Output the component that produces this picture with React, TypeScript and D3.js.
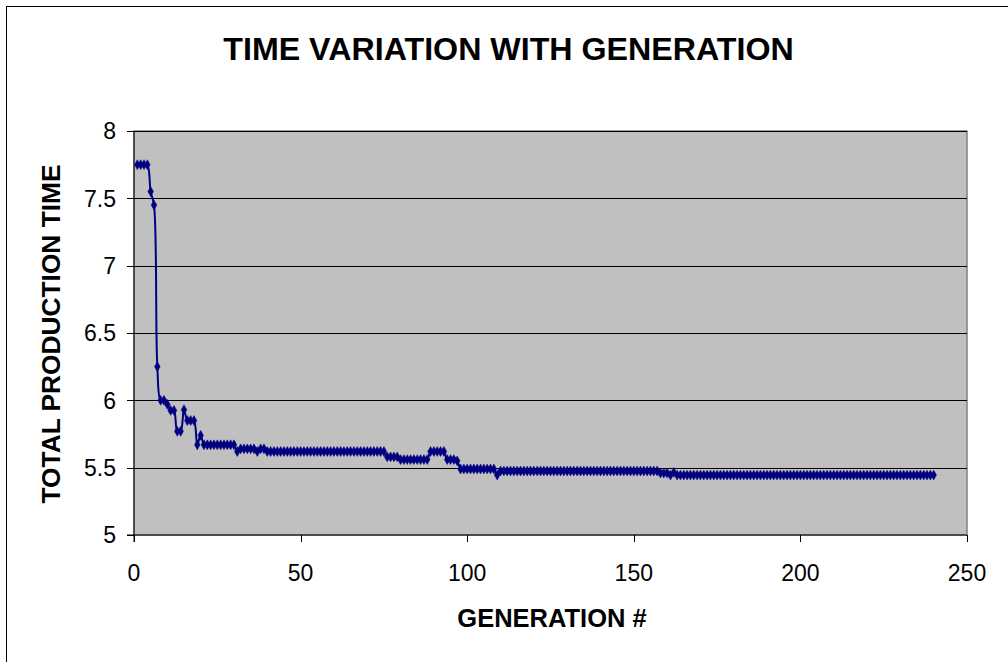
import React from "react";
import * as d3 from "d3";

const title = "TIME VARIATION WITH GENERATION";
const xTitle = "GENERATION #";
const yTitle = "TOTAL PRODUCTION TIME";
const xTicks = [0, 50, 100, 150, 200, 250];
const yTicks = [5, 5.5, 6, 6.5, 7, 7.5, 8];

// total production time per generation (generations 1..240)
const times = [
  7.75, 7.75, 7.75, 7.75, 7.55, 7.45, 6.25, 6.0, 6.0, 5.97,
  5.925, 5.925, 5.77, 5.77, 5.93, 5.85, 5.85, 5.85, 5.67, 5.74,
  5.67, 5.67, 5.67, 5.67, 5.67, 5.67, 5.67, 5.67, 5.67, 5.67,
  5.62, 5.64, 5.64, 5.64, 5.64, 5.64, 5.62, 5.64, 5.64, 5.62,
  5.62, 5.62, 5.62, 5.62, 5.62, 5.62, 5.62, 5.62, 5.62, 5.62,
  5.62, 5.62, 5.62, 5.62, 5.62, 5.62, 5.62, 5.62, 5.62, 5.62,
  5.62, 5.62, 5.62, 5.62, 5.62, 5.62, 5.62, 5.62, 5.62, 5.62,
  5.62, 5.62, 5.62, 5.62, 5.62, 5.58, 5.58, 5.58, 5.58, 5.56,
  5.56, 5.56, 5.56, 5.56, 5.56, 5.56, 5.56, 5.56, 5.62, 5.62,
  5.62, 5.62, 5.62, 5.56, 5.56, 5.56, 5.55, 5.49, 5.49, 5.49,
  5.49, 5.49, 5.49, 5.49, 5.49, 5.49, 5.49, 5.49, 5.445, 5.475,
  5.475, 5.475, 5.475, 5.475, 5.475, 5.475, 5.475, 5.475, 5.475, 5.475,
  5.475, 5.475, 5.475, 5.475, 5.475, 5.475, 5.475, 5.475, 5.475, 5.475,
  5.475, 5.475, 5.475, 5.475, 5.475, 5.475, 5.475, 5.475, 5.475, 5.475,
  5.475, 5.475, 5.475, 5.475, 5.475, 5.475, 5.475, 5.475, 5.475, 5.475,
  5.475, 5.475, 5.475, 5.475, 5.475, 5.475, 5.475, 5.46, 5.46, 5.46,
  5.445, 5.465, 5.445, 5.445, 5.445, 5.445, 5.445, 5.445, 5.445, 5.445,
  5.445, 5.445, 5.445, 5.445, 5.445, 5.445, 5.445, 5.445, 5.445, 5.445,
  5.445, 5.445, 5.445, 5.445, 5.445, 5.445, 5.445, 5.445, 5.445, 5.445,
  5.445, 5.445, 5.445, 5.445, 5.445, 5.445, 5.445, 5.445, 5.445, 5.445,
  5.445, 5.445, 5.445, 5.445, 5.445, 5.445, 5.445, 5.445, 5.445, 5.445,
  5.445, 5.445, 5.445, 5.445, 5.445, 5.445, 5.445, 5.445, 5.445, 5.445,
  5.445, 5.445, 5.445, 5.445, 5.445, 5.445, 5.445, 5.445, 5.445, 5.445,
  5.445, 5.445, 5.445, 5.445, 5.445, 5.445, 5.445, 5.445, 5.445, 5.445,
];

const W = 1008;
const H = 662;
const plot = { left: 134, right: 967, top: 131, bottom: 535 };
const font = "'Liberation Sans', Arial, Helvetica, sans-serif";
const navy = "#000080";

export default function App() {
  const x = d3.scaleLinear().domain([0, 250]).range([plot.left, plot.right]);
  const y = d3.scaleLinear().domain([5, 8]).range([plot.bottom, plot.top]);
  const pts: [number, number][] = times.map((v, i) => [i + 1, v]);
  const line = d3
    .line<[number, number]>()
    .x((d) => x(d[0]))
    .y((d) => y(d[1]))
    .curve(d3.curveCatmullRom.alpha(0.5));
  const diamond = d3.symbol().type(d3.symbolDiamond).size(28)();

  return (
    <svg
      width={W}
      height={H}
      style={{ position: "absolute", left: 0, top: 0, background: "#fff" }}
      fontFamily={font}
    >
      <rect x={6.5} y={6.5} width={W + 20} height={H + 20} fill="#fff" stroke="#000" strokeWidth={1} />
      <text x={508.5} y={60} textAnchor="middle" fontSize={32.2} fontWeight="bold" fill="#000">
        {title}
      </text>
      <rect
        x={plot.left}
        y={plot.top}
        width={plot.right - plot.left}
        height={plot.bottom - plot.top}
        fill="#C0C0C0"
        stroke="#808080"
        strokeWidth={1.5}
      />
      {yTicks.slice(1).map((t) => (
        <line key={"g" + t} x1={plot.left} x2={plot.right} y1={Math.round(y(t)) + 0.5} y2={Math.round(y(t)) + 0.5} stroke="#000" strokeWidth={1} />
      ))}
      <line x1={plot.left} x2={plot.left} y1={plot.top} y2={plot.bottom + 7} stroke="#000" strokeWidth={1} />
      <line x1={plot.left - 7} x2={plot.right} y1={plot.bottom} y2={plot.bottom} stroke="#000" strokeWidth={1} />
      {yTicks.map((t) => (
        <g key={"y" + t}>
          <line x1={plot.left - 7} x2={plot.left} y1={Math.round(y(t)) + 0.5} y2={Math.round(y(t)) + 0.5} stroke="#000" />
          <text x={plot.left - 18} y={y(t)} dy="0.36em" textAnchor="end" fontSize={23} fill="#000">
            {t}
          </text>
        </g>
      ))}
      {xTicks.map((t) => (
        <g key={"x" + t}>
          <line x1={Math.round(x(t)) + 0.5} x2={Math.round(x(t)) + 0.5} y1={plot.bottom} y2={plot.bottom + 7} stroke="#000" />
          <text x={x(t)} y={581} textAnchor="middle" fontSize={23} fill="#000">
            {t}
          </text>
        </g>
      ))}
      <text x={552} y={627} textAnchor="middle" fontSize={25.5} fontWeight="bold" fill="#000">
        {xTitle}
      </text>
      <text
        transform={`translate(60,${(plot.top + plot.bottom) / 2 + 1}) rotate(-90)`}
        textAnchor="middle"
        fontSize={26.3}
        fontWeight="bold"
        fill="#000"
      >
        {yTitle}
      </text>
      <path d={line(pts) || ""} fill="none" stroke={navy} strokeWidth={2} />
      {pts.map((p, i) => (
        <path key={i} d={diamond || ""} transform={`translate(${x(p[0])},${y(p[1])})`} fill={navy} stroke={navy} strokeWidth={0.5} />
      ))}
    </svg>
  );
}
